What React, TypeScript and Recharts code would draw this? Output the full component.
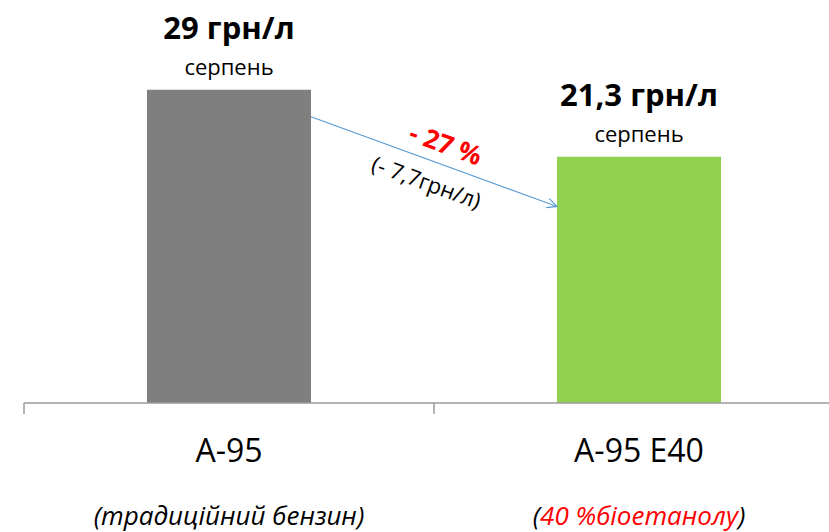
import { BarChart, Bar, XAxis, YAxis, Cell, LabelList, ReferenceLine } from "recharts";

const categories = ["A-95", "A-95 E40"];
const slots = [0.5, 1.5]; // category centres on the helper axis
const notes = ["(традиційний бензин)", "(40 %біоетанолу)"];
const prices = [29, 22.8]; // bar heights as drawn
const priceLabels = ["29 грн/л", "21,3 грн/л"];
const months = ["серпень", "серпень"];
const barColors = ["#7f7f7f", "#92d050"];
const arrowFrom = [0.7, 26.5];
const arrowTo = [1.3, 18.2];
const changeLabels = ["- 27 %", "(- 7,7грн/л)"];

const data = categories.map((name, i) => ({ name, slot: slots[i], price: prices[i] }));

const FONT = "'Open Sans', 'DejaVu Sans', sans-serif";

const CategoryTick = (props: any) => {
  const { x, y, payload, index } = props;
  const half = payload?.offset ?? 205;
  const i = index ?? categories.indexOf(payload.value);
  return (
    <g>
      <line x1={x - half} y1={y} x2={x - half} y2={y + 11} stroke="#9a9a9a" strokeWidth={1.5} />
      <text x={x} y={y + 59} textAnchor="middle" fontFamily={FONT} fontSize={32} fill="#000">
        {payload.value}
      </text>
      {i === 0 ? (
        <text x={x} y={y + 122} textAnchor="middle" fontFamily={FONT} fontSize={26} fontStyle="italic" fill="#000">
          {notes[0]}
        </text>
      ) : (
        <text x={x} y={y + 122} textAnchor="middle" fontFamily={FONT} fontSize={26} fontStyle="italic" fill="#000">
          (<tspan fill="#ff0000">{notes[1].slice(1, -1)}</tspan>)
        </text>
      )}
    </g>
  );
};

const PriceLabel = (props: any) => {
  const { x, y, width, index } = props;
  const cx = x + width / 2;
  return (
    <g>
      <text x={cx} y={y - 51} textAnchor="middle" fontFamily={FONT} fontSize={31} fontWeight="bold" fill="#000">
        {priceLabels[index]}
      </text>
      <text x={cx} y={y - 15} textAnchor="middle" fontFamily={FONT} fontSize={22} fill="#000">
        {months[index]}
      </text>
    </g>
  );
};

const ArrowShape = (props: any) => {
  const { x1, y1, x2, y2 } = props;
  const ang = Math.atan2(y2 - y1, x2 - x1);
  const deg = (ang * 180) / Math.PI;
  const head = 11;
  const a1 = ang + Math.PI - 0.45;
  const a2 = ang + Math.PI + 0.45;
  const mx = (x1 + x2) / 2;
  const my = (y1 + y2) / 2;
  return (
    <g>
      <line x1={x1} y1={y1} x2={x2} y2={y2} stroke="#5b9bd5" strokeWidth={1.2} />
      <polyline
        points={`${x2 + head * Math.cos(a1)},${y2 + head * Math.sin(a1)} ${x2},${y2} ${x2 + head * Math.cos(a2)},${y2 + head * Math.sin(a2)}`}
        fill="none"
        stroke="#5b9bd5"
        strokeWidth={1.2}
      />
      <g transform={`translate(${mx},${my}) rotate(${deg})`}>
        <text x={5} y={-11} textAnchor="middle" fontFamily={FONT} fontSize={26} fontWeight="bold" fill="#ff0000">
          {changeLabels[0]}
        </text>
        <text x={0} y={30} textAnchor="middle" fontFamily={FONT} fontSize={22} fill="#000">
          {changeLabels[1]}
        </text>
      </g>
    </g>
  );
};

export default function App() {
  return (
    <div style={{ position: "fixed", left: 0, top: 0, width: 829, height: 532, overflow: "hidden", background: "#fff" }}>
      <BarChart width={844} height={532} data={data} margin={{ top: 79, right: 0, left: 24, bottom: 0 }} barCategoryGap="30%">
        <XAxis
          dataKey="name"
          height={129}
          axisLine={{ stroke: "#9a9a9a", strokeWidth: 1.5 }}
          tickLine={false}
          tickSize={0}
          tickMargin={0}
          tick={<CategoryTick />}
          interval={0}
        />
        <XAxis xAxisId="pos" dataKey="slot" type="number" domain={[0, 2]} allowDataOverflow hide />
        <YAxis domain={[0, 30]} hide />
        <Bar dataKey="price" isAnimationActive={false}>
          {data.map((d, i) => (
            <Cell key={d.name} fill={barColors[i]} />
          ))}
          <LabelList dataKey="price" content={<PriceLabel />} />
        </Bar>
        <ReferenceLine
          xAxisId="pos"
          segment={[
            { x: arrowFrom[0], y: arrowFrom[1] },
            { x: arrowTo[0], y: arrowTo[1] },
          ]}
          shape={<ArrowShape />}
          ifOverflow="visible"
        />
      </BarChart>
    </div>
  );
}
